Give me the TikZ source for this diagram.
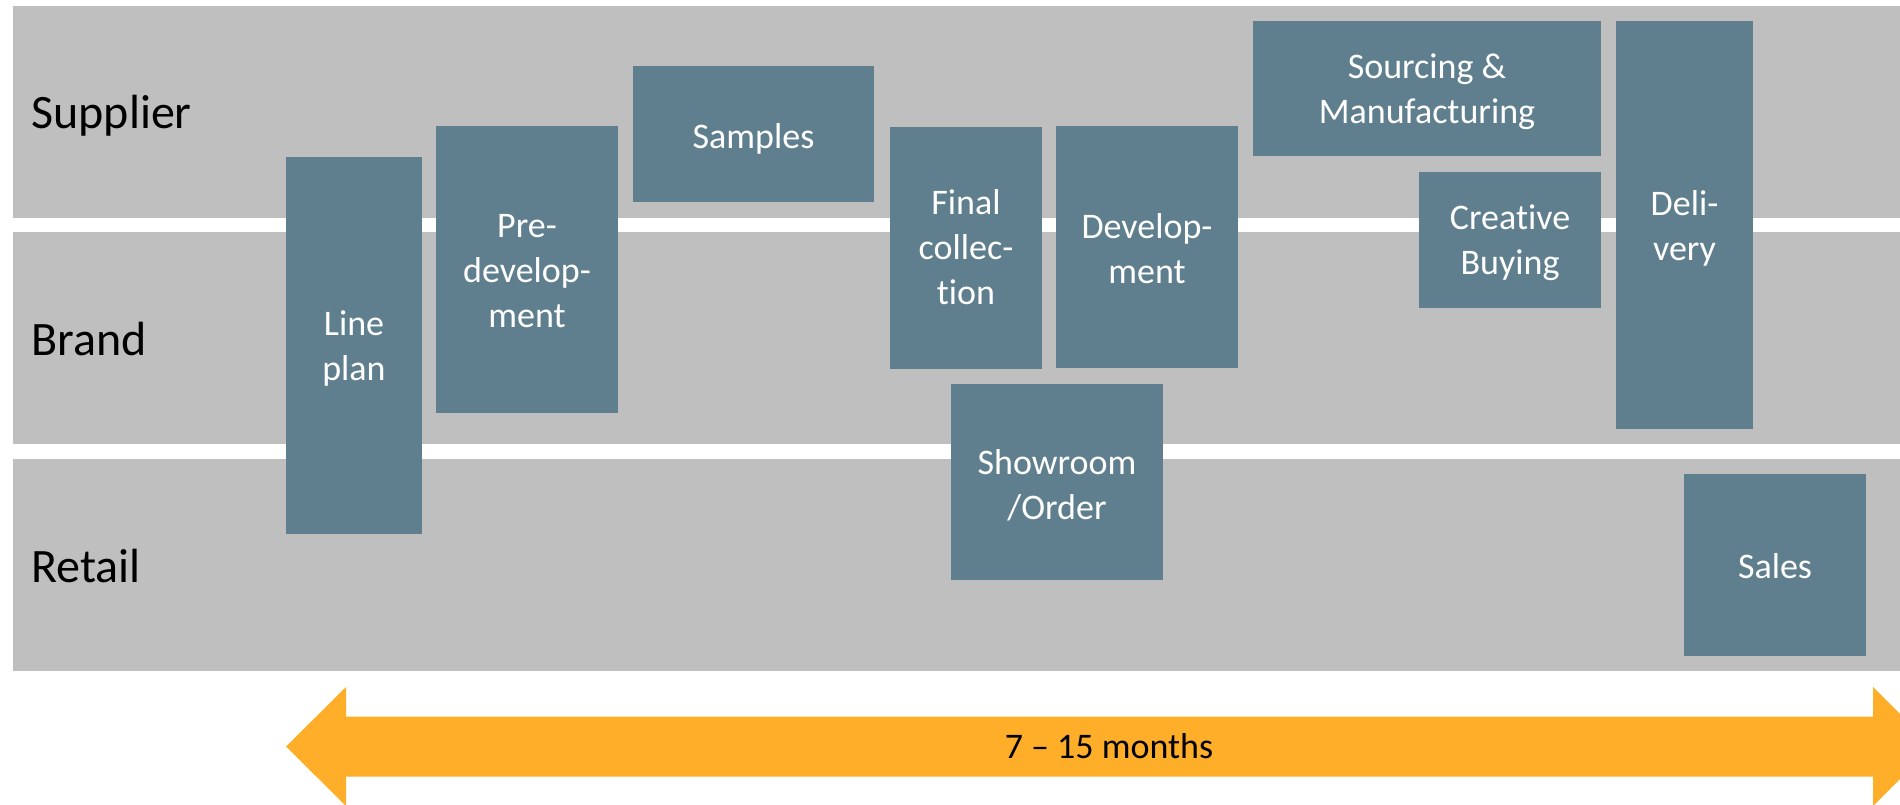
\documentclass[tikz,border=0pt]{standalone}
\usepackage{fontspec}
\setmainfont[RawFeature={-liga;-clig;-dlig;-calt;-rlig}]{Carlito}
\usepackage{xcolor}
\definecolor{lanegray}{HTML}{BFBFBF}
\definecolor{phaseblue}{HTML}{5F7F8E}
\definecolor{spanorange}{HTML}{FFAE29}

\begin{document}
\begin{tikzpicture}[x=0.5pt, y=-0.5pt]

% Define styles for lanes and phases
\tikzstyle{lane} = [fill=lanegray]
\tikzstyle{lanelabel} = [anchor=base west, inner sep=0pt, font=\fontsize{24}{29}\selectfont]
\tikzstyle{phase} = [fill=phaseblue]
\tikzstyle{phasetext} = [text=white, align=center, inner sep=0pt, font=\fontsize{18}{22.5}\selectfont]
\tikzstyle{span} = [fill=spanorange]

\useasboundingbox (0,0) rectangle (1900,804);
\clip (0,0) rectangle (1900,804);

% Draw lanes
\fill[lane] (13,6) rectangle (1900,218);
\fill[lane] (13,232) rectangle (1900,444);
\fill[lane] (13,459) rectangle (1900,671);
\node[lanelabel] (supplier) at (31,128) {Supplier};
\node[lanelabel] (brand) at (31,355) {Brand};
\node[lanelabel] (retail) at (31,582) {Retail};

% Phases
\fill[phase] (286,157) rectangle (422,534);
\node[phasetext] (lineplan) at (354,349) {Line\\plan};
\fill[phase] (436,126) rectangle (618,413);
\node[phasetext] (predev) at (527,271) {Pre-\\develop-\\ment};
\fill[phase] (633,66) rectangle (874,202);
\node[phasetext] (samples) at (753.5,138.5) {Samples};
\fill[phase] (890,127) rectangle (1042,369);
\node[phasetext] (finalcoll) at (966,247.5) {Final\\collec-\\t\kern0pt ion};
\fill[phase] (1056,126) rectangle (1238,368);
\node[phasetext] (develop) at (1147,248.5) {Develop-\\ment};
\fill[phase] (951,384) rectangle (1163,580);
\node[phasetext] (showroom) at (1057,485) {Showroom\\/Order};
\fill[phase] (1253,21) rectangle (1601,156);
\node[phasetext] (sourcing) at (1427,92) {Sourcing \&\\Manufacturing};
\fill[phase] (1419,172) rectangle (1601,308);
\node[phasetext] (creative) at (1510,242.5) {Creat\kern0pt ive\\Buying};
\fill[phase] (1616,21) rectangle (1753,429);
\node[phasetext] (delivery) at (1684.5,228.5) {Deli-\\very};
\fill[phase] (1684,474) rectangle (1866,656);
\node[phasetext] (sales) at (1775,566) {Sales};

% Time span arrow
\fill[span] (286,746.5) -- (346,687) -- (346,716.5) -- (1873,716.5) -- (1873,687)
  -- (1932.5,746.5) -- (1873,806) -- (1873,776.5) -- (346,776.5) -- (346,806) -- cycle;
\node[anchor=base, font=\fontsize{18}{22.5}\selectfont] (months) at (1109,758) {7 -- 15 months};

\end{tikzpicture}
\end{document}
